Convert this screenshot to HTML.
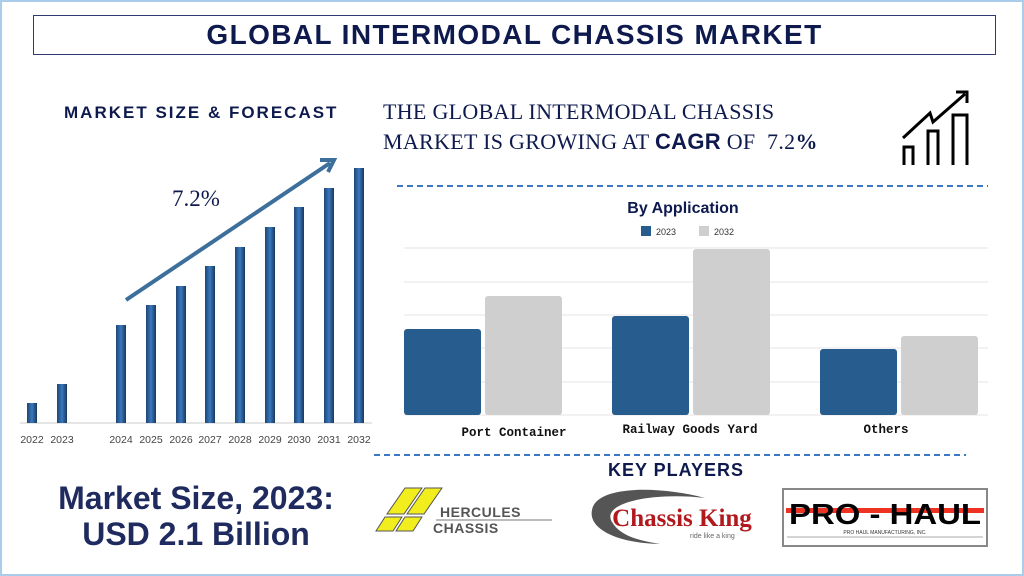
<!DOCTYPE html>
<html><head><meta charset="utf-8"><style>
body{margin:0;width:1024px;height:576px;overflow:hidden;background:#fff;font-family:"Liberation Sans",sans-serif}
.frame{position:absolute;left:0;top:0;width:1020px;height:572px;border:2px solid #a9cdeb}
.t{position:absolute;white-space:nowrap}
</style></head><body>
<div class="frame"></div>
<div style="position:absolute;left:33px;top:15px;width:961px;height:38px;border:1px solid #2e3a6e"></div>
<div class="t" style="left:33px;width:963px;top:19px;text-align:center;font:bold 28px 'Liberation Sans',sans-serif;color:#0e1a4e;letter-spacing:1.4px">GLOBAL INTERMODAL CHASSIS MARKET</div>
<div class="t" style="left:64px;top:103px;font:bold 17px 'Liberation Sans',sans-serif;color:#0e1a4e;letter-spacing:2px">MARKET SIZE &amp; FORECAST</div>
<div class="t" style="left:383px;top:97px;font:22px 'Liberation Serif',serif;color:#0e1a4e;line-height:30px;letter-spacing:0.3px">THE GLOBAL INTERMODAL CHASSIS<br>MARKET IS GROWING AT <b style="font-family:'Liberation Sans'">CAGR</b> OF &nbsp;7.2<b>%</b></div>
<svg style="position:absolute;left:0;top:0" width="1024" height="576">
<defs><linearGradient id="bg" x1="0" x2="1"><stop offset="0" stop-color="#1d4675"/><stop offset="0.5" stop-color="#3a78bd"/><stop offset="1" stop-color="#17395f"/></linearGradient></defs>
<line x1="20" y1="423" x2="372" y2="423" stroke="#ccc"/>
<g fill="url(#bg)">
<rect x="27" y="403" width="10" height="20"/><rect x="57" y="384" width="10" height="39"/>
<rect x="116" y="325" width="10" height="98"/><rect x="146" y="305" width="10" height="118"/>
<rect x="176" y="286" width="10" height="137"/><rect x="205" y="266" width="10" height="157"/>
<rect x="235" y="247" width="10" height="176"/><rect x="265" y="227" width="10" height="196"/>
<rect x="294" y="207" width="10" height="216"/><rect x="324" y="188" width="10" height="235"/>
<rect x="354" y="168" width="10" height="255"/></g>
<g font-family="Liberation Sans" font-size="10.5" fill="#444" text-anchor="middle">
<text x="32" y="443">2022</text><text x="62" y="443">2023</text><text x="121" y="443">2024</text><text x="151" y="443">2025</text><text x="181" y="443">2026</text><text x="210" y="443">2027</text><text x="240" y="443">2028</text><text x="270" y="443">2029</text><text x="299" y="443">2030</text><text x="329" y="443">2031</text><text x="359" y="443">2032</text></g>
<line x1="126" y1="300" x2="330" y2="163" stroke="#3c6f9c" stroke-width="4"/>
<polyline points="320,160 334,160 328,172" fill="none" stroke="#3c6f9c" stroke-width="4"/>
<text x="196" y="206" font-family="Liberation Serif" font-size="23" fill="#0e1a4e" text-anchor="middle">7.2%</text>
<g fill="none" stroke="#000" stroke-width="3">
<path d="M904 165V147H913V165M928 165V131H938V165M953 165V115H967V165"/>
<path d="M903 138L930 113L933 122L965 94"/><path d="M956 92H967V103"/></g>
<line x1="397" y1="186" x2="988" y2="186" stroke="#3b78c2" stroke-width="2" stroke-dasharray="6,4"/>
<line x1="374" y1="455" x2="966" y2="455" stroke="#3b78c2" stroke-width="2" stroke-dasharray="6,4"/>
<text x="683" y="213" font-family="Liberation Sans" font-weight="bold" font-size="16" fill="#0e1a4e" text-anchor="middle">By Application</text>
<rect x="641" y="226" width="10" height="10" fill="#275c8f"/><text x="656" y="235" font-size="9" font-family="Liberation Sans" fill="#333">2023</text>
<rect x="699" y="226" width="10" height="10" fill="#cfcfcf"/><text x="714" y="235" font-size="9" font-family="Liberation Sans" fill="#333">2032</text>
<g stroke="#e4e4e4"><line x1="404" y1="248" x2="988" y2="248"/><line x1="404" y1="282" x2="988" y2="282"/><line x1="404" y1="315" x2="988" y2="315"/><line x1="404" y1="348" x2="988" y2="348"/><line x1="404" y1="382" x2="988" y2="382"/><line x1="404" y1="415" x2="988" y2="415"/></g>
<g fill="#275c8f"><rect x="404" y="329" width="77" height="86" rx="3"/><rect x="612" y="316" width="77" height="99" rx="3"/><rect x="820" y="349" width="77" height="66" rx="3"/></g>
<g fill="#cfcfcf"><rect x="485" y="296" width="77" height="119" rx="3"/><rect x="693" y="249" width="77" height="166" rx="3"/><rect x="901" y="336" width="77" height="79" rx="3"/></g>
<g font-family="Liberation Mono" font-size="12.5" fill="#111" text-anchor="middle" font-weight="bold">
<text x="514" y="436">Port Container</text><text x="690" y="433">Railway Goods Yard</text><text x="886" y="433">Others</text></g>
<text x="676" y="476" font-family="Liberation Sans" font-weight="bold" font-size="18" fill="#0e1a4e" text-anchor="middle" letter-spacing="1">KEY PLAYERS</text>
<!-- Hercules -->
<g fill="#f2ee1e" stroke="#555" stroke-width="1"><polygon points="405,488 422,488 404,514 387,514"/><polygon points="425,488 442,488 424,514 407,514"/><polygon points="385,517 402,517 393,531 376,531"/><polygon points="405,517 422,517 413,531 396,531"/></g>
<line x1="436" y1="520" x2="552" y2="520" stroke="#777"/>
<text x="440" y="517" font-family="Liberation Sans" font-size="14" fill="#555" font-weight="bold" letter-spacing="0.5">HERCULES</text>
<text x="433" y="533" font-family="Liberation Sans" font-size="14" fill="#555" font-weight="bold" letter-spacing="0.5">CHASSIS</text>
<!-- Chassis King -->
<path d="M592 510C596 485 660 486 705 498C655 492 600 502 612 522C620 536 640 541 660 544C615 543 588 528 592 510Z" fill="#555"/>
<text x="682" y="526" font-family="Liberation Serif" font-weight="bold" font-size="25" fill="#b1191d" text-anchor="middle">Chassis King</text>
<text x="690" y="538" font-family="Liberation Sans" font-size="7" fill="#666">ride like a king</text>
<!-- Pro haul -->
<rect x="783" y="489" width="204" height="57" fill="none" stroke="#888" stroke-width="2"/>
<line x1="787" y1="537" x2="983" y2="537" stroke="#aaa"/>
<rect x="786" y="508" width="198" height="5" fill="#e32"/>
<text x="885" y="524" font-family="Liberation Sans" font-weight="bold" font-size="29" fill="#000" text-anchor="middle" textLength="192" lengthAdjust="spacingAndGlyphs">PRO - HAUL</text>
<text x="885" y="534" font-family="Liberation Sans" font-size="5" fill="#333" text-anchor="middle">PRO HAUL MANUFACTURING, INC.</text>
</svg>
<div class="t" style="left:0;width:392px;top:480px;text-align:center;font:bold 32px 'Liberation Sans',sans-serif;color:#1f2b5e;line-height:36px">Market Size, 2023:<br>USD 2.1 Billion</div>
</body></html>
